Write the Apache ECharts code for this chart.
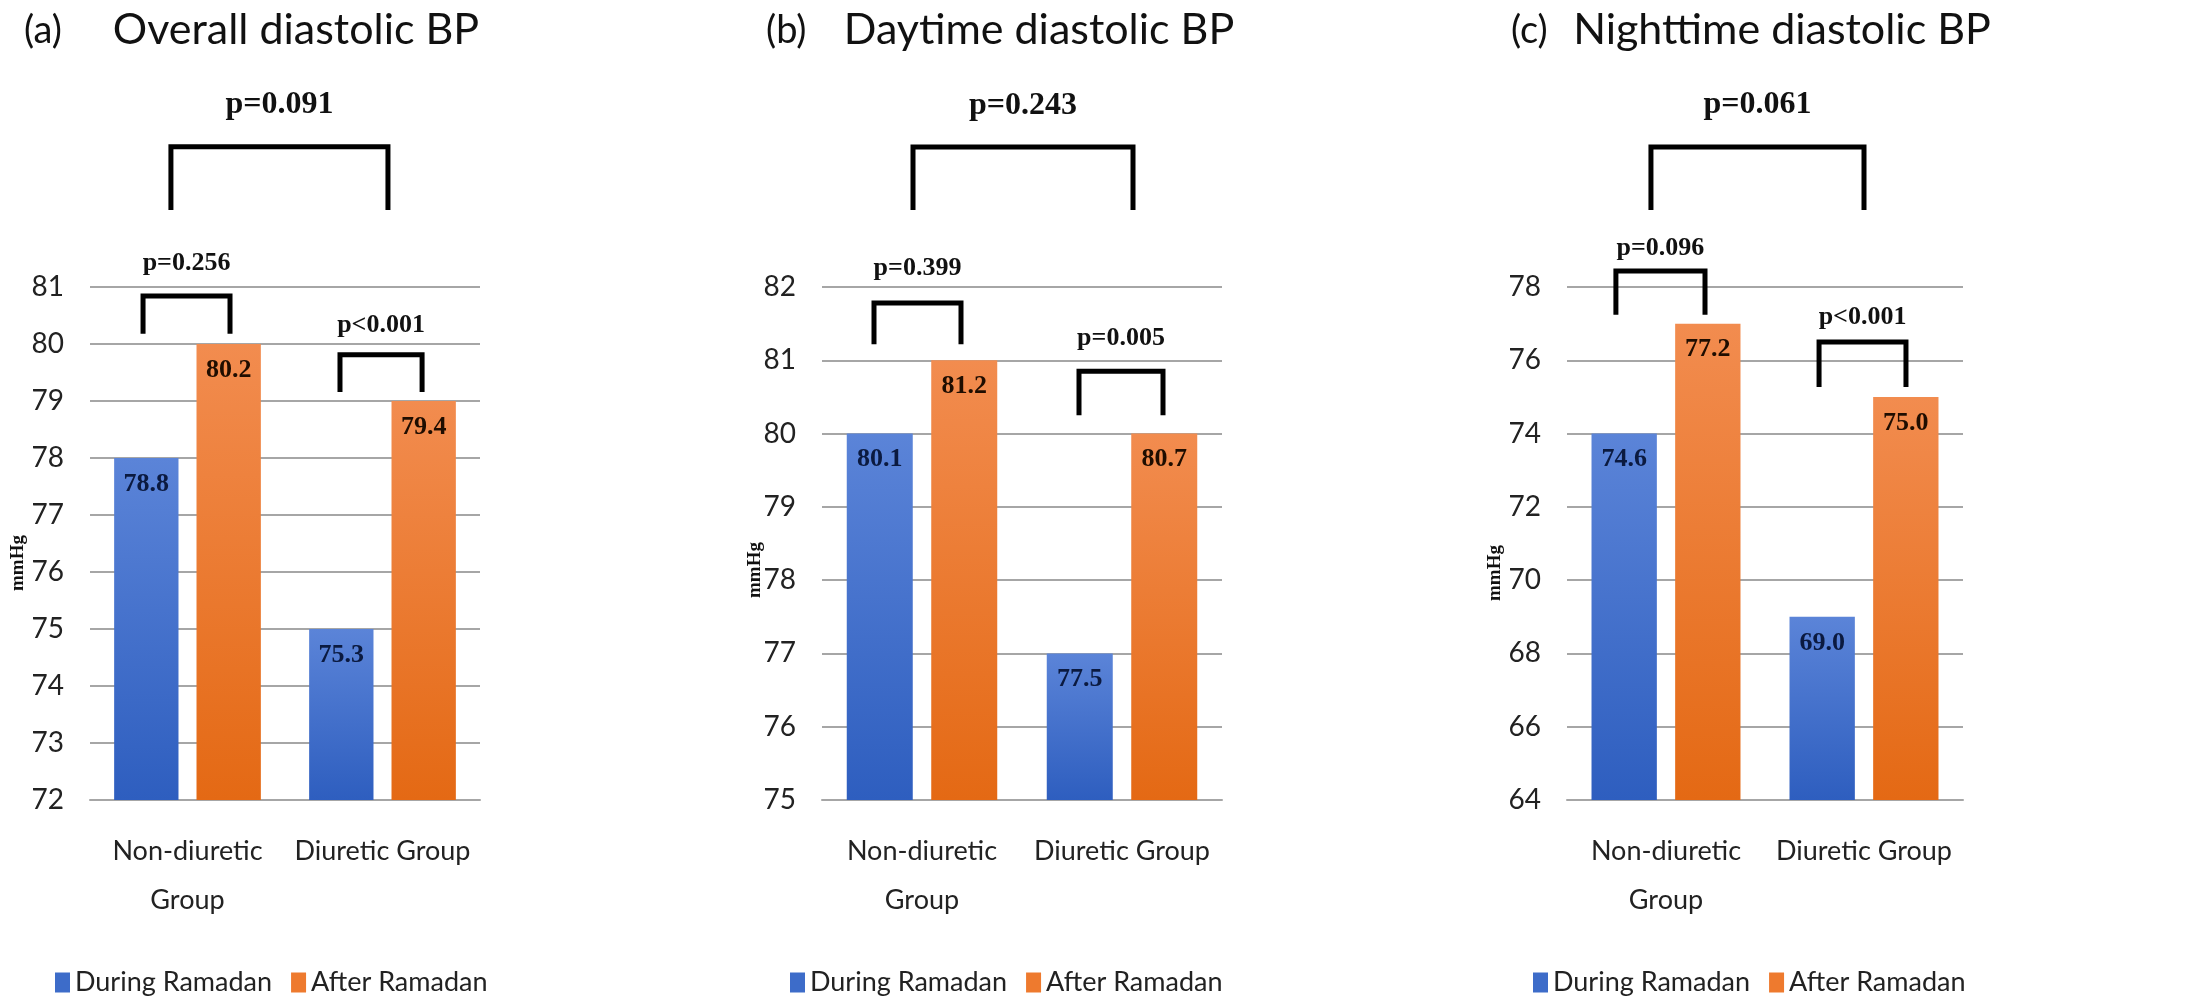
<!DOCTYPE html>
<html>
<head>
<meta charset="utf-8">
<script src="https://cdn.jsdelivr.net/npm/echarts@6/dist/echarts.min.js"></script>
<style>
html,body{margin:0;padding:0;background:#fff;}
#chart{width:2212px;height:1002px;}
</style>
</head>
<body>
<div id="chart"></div>
<script>
// ---------- data ----------
const categories = ['Non-diuretic\nGroup', 'Diuretic Group'];
const seriesNames = ['During Ramadan', 'After Ramadan'];
const panelTags = ['(a)', '(b)', '(c)'];
const panelTitles = ['Overall diastolic BP', 'Daytime diastolic BP', 'Nighttime diastolic BP'];
const axisName = 'mmHg';

// bar heights as drawn, and the value labels printed on them
const overallDuring = [78, 75];
const overallAfter = [80, 79];
const overallDuringLabels = ['78.8', '75.3'];
const overallAfterLabels = ['80.2', '79.4'];

const daytimeDuring = [80, 77];
const daytimeAfter = [81, 80];
const daytimeDuringLabels = ['80.1', '77.5'];
const daytimeAfterLabels = ['81.2', '80.7'];

const nighttimeDuring = [74, 69];
const nighttimeAfter = [77, 75];
const nighttimeDuringLabels = ['74.6', '69.0'];
const nighttimeAfterLabels = ['77.2', '75.0'];

// y-axis ranges
const yMins = [72, 75, 64];
const yMaxs = [81, 82, 78];
const ySteps = [1, 1, 2];

// significance brackets: [xStart, xEnd, yTop, yLegEnd, yText] (x in category units 0..2, y in mmHg)
const overallBrackets = [[0.415, 1.528, 83.46, 82.35, 84.19], [0.272, 0.718, 80.84, 80.18, 81.42], [1.282, 1.703, 79.81, 79.16, 80.33]];
const daytimeBrackets = [[0.455, 1.555, 83.91, 83.05, 84.48], [0.26, 0.695, 81.78, 81.22, 82.26], [1.285, 1.705, 80.85, 80.25, 81.30]];
const nighttimeBrackets = [[0.424, 1.5, 81.82, 80.10, 82.97], [0.247, 0.697, 78.44, 77.24, 79.07], [1.273, 1.712, 76.5, 75.27, 77.16]];
const overallPValues = ['p=0.091', 'p=0.256', 'p<0.001'];
const daytimePValues = ['p=0.243', 'p=0.399', 'p=0.005'];
const nighttimePValues = ['p=0.061', 'p=0.096', 'p<0.001'];

// ---------- layout & style ----------
const panels = [
  {during: overallDuring, after: overallAfter, dl: overallDuringLabels, al: overallAfterLabels, br: overallBrackets, pv: overallPValues},
  {during: daytimeDuring, after: daytimeAfter, dl: daytimeDuringLabels, al: daytimeAfterLabels, br: daytimeBrackets, pv: daytimePValues},
  {during: nighttimeDuring, after: nighttimeAfter, dl: nighttimeDuringLabels, al: nighttimeAfterLabels, br: nighttimeBrackets, pv: nighttimePValues}
];
const gridLefts = [90, 822, 1567];
const gridWidths = [390, 400, 396];
const gridTop = 287, gridHeight = 513;
const legendCenters = [270, 1005, 1748];
const tagLefts = [24, 766, 1511];
const titleCenters = [296, 1039, 1782];
const nameX = [18, 755, 1495];
const nameY = [563, 570, 573];

const SANS = 'Lato';
const SERIF = '"Liberation Serif", "Times New Roman", serif';
const gridColor = '#a6a6a6';
const blueGrad = new echarts.graphic.LinearGradient(0, 0, 0, 1, [{offset: 0, color: '#5b84d8'}, {offset: 1, color: '#2e5ebf'}]);
const orangeGrad = new echarts.graphic.LinearGradient(0, 0, 0, 1, [{offset: 0, color: '#f28c4f'}, {offset: 1, color: '#e46914'}]);

const option = {
  backgroundColor: '#fff',
  animation: false,
  title: [], grid: [], xAxis: [], yAxis: [], legend: [], series: [], graphic: []
};

panels.forEach((p, i) => {
  option.title.push({text: panelTags[i], left: tagLefts[i], top: 12, padding: 0,
    textStyle: {fontFamily: SANS, fontSize: 38, fontWeight: 'normal', color: '#111'}});
  option.title.push({text: panelTitles[i], left: titleCenters[i], top: 9, padding: 0, textAlign: 'center',
    textStyle: {fontFamily: SANS, fontSize: 43, fontWeight: 'normal', color: '#111'}});
  option.graphic.push({type: 'text', x: nameX[i], y: nameY[i], rotation: Math.PI / 2, silent: true,
    style: {text: axisName, fontFamily: SERIF, fontWeight: 'bold', fontSize: 19, fill: '#111',
      align: 'center', verticalAlign: 'middle'}});
  option.grid.push({left: gridLefts[i], top: gridTop, width: gridWidths[i], height: gridHeight, containLabel: false});
  option.xAxis[i] = {
    type: 'category', gridIndex: i, data: categories,
    axisLine: {show: true, lineStyle: {color: gridColor, width: 2}},
    axisTick: {show: false},
    axisLabel: {fontFamily: SANS, fontSize: 27, color: '#222', lineHeight: 49, margin: 27, interval: 0}
  };
  option.xAxis[3 + i] = {type: 'value', gridIndex: i, min: 0, max: 2, show: false, splitLine: {show: false}};
  option.yAxis.push({
    type: 'value', gridIndex: i, min: yMins[i], max: yMaxs[i], interval: ySteps[i],
    axisLine: {show: false}, axisTick: {show: false},
    axisLabel: {fontFamily: SANS, fontSize: 28, color: '#222', margin: 26},
    splitLine: {lineStyle: {color: gridColor, width: 2}}
  });
  option.legend.push({
    left: legendCenters[i] - 215, top: 969, padding: 0, itemWidth: 15, itemHeight: 20, itemGap: 19, icon: 'rect',
    textStyle: {fontFamily: SANS, fontSize: 27, color: '#222'},
    data: [{name: seriesNames[0], itemStyle: {color: '#3d6cc9'}}, {name: seriesNames[1], itemStyle: {color: '#ee7a2e'}}],
    selectedMode: false
  });
  const labelBase = {show: true, position: 'insideTop', distance: 13, fontFamily: SERIF, fontWeight: 'bold', fontSize: 26};
  option.series.push({
    type: 'bar', name: seriesNames[0], xAxisIndex: i, yAxisIndex: i, data: p.during,
    barWidth: '33%', barGap: '28%', itemStyle: {color: blueGrad},
    label: Object.assign({}, labelBase, {color: '#0b1a40', formatter: (d) => p.dl[d.dataIndex]})
  });
  option.series.push({
    type: 'bar', name: seriesNames[1], xAxisIndex: i, yAxisIndex: i, data: p.after,
    barWidth: '33%', barGap: '28%', itemStyle: {color: orangeGrad},
    label: Object.assign({}, labelBase, {color: '#1f0d00', formatter: (d) => p.al[d.dataIndex]})
  });
  option.series.push({
    type: 'custom', xAxisIndex: 3 + i, yAxisIndex: i, clip: false, silent: true,
    data: p.br,
    encode: {x: [0, 1], y: [2, 3, 4]},
    renderItem: function (params, api) {
      const a = api.coord([api.value(0), api.value(2)]);
      const b = api.coord([api.value(1), api.value(2)]);
      const legL = api.coord([api.value(0), api.value(3)]);
      const legR = api.coord([api.value(1), api.value(3)]);
      const t = api.coord([(api.value(0) + api.value(1)) / 2, api.value(4)]);
      const big = params.dataIndex === 0;
      return {
        type: 'group',
        children: [
          {type: 'polyline', shape: {points: [legL, a, b, legR]},
            style: {stroke: '#000', lineWidth: 5, fill: null, lineJoin: 'miter', lineCap: 'butt'}},
          {type: 'text', x: t[0], y: t[1],
            style: {text: p.pv[params.dataIndex], fontFamily: SERIF, fontWeight: 'bold',
              fontSize: big ? 32 : 26, fill: '#111', align: 'center', verticalAlign: 'middle'}}
        ]
      };
    }
  });
});

const chart = echarts.init(document.getElementById('chart'), null, {renderer: 'canvas'});
chart.setOption(option);
</script>
</body>
</html>
